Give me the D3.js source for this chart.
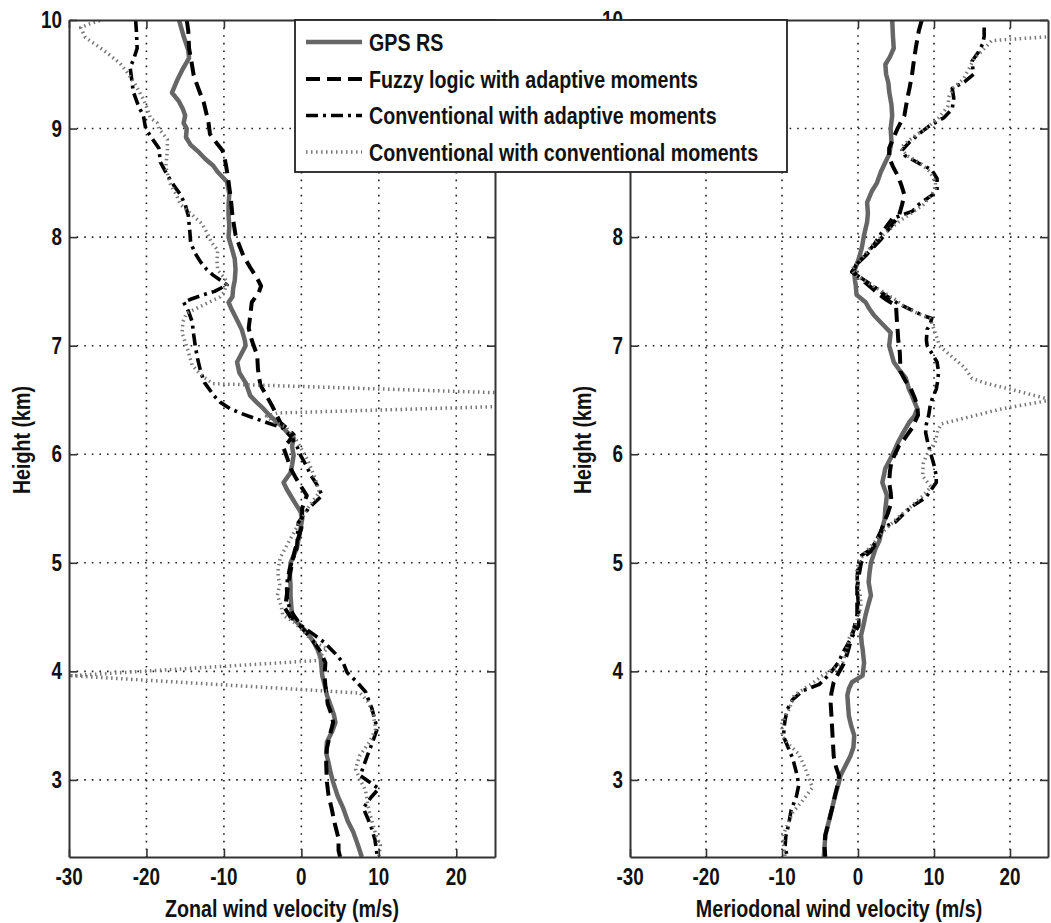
<!DOCTYPE html>
<html>
<head>
<meta charset="utf-8">
<script src="https://cdn.jsdelivr.net/npm/d3@7"></script>
<style>
  html, body { margin: 0; padding: 0; background: #fff; }
  svg text { font-family: "Liberation Sans", Arial, sans-serif; font-weight: bold; fill: #111; }
</style>
</head>
<body>
<svg id="chart" width="1051" height="923"></svg>
<script>
// Wind profiles: each point is [height (km), velocity (m/s)]

// ---- Zonal component ----
const zonalGPS = [[10.0,-15.8],[9.85,-15.2],[9.72,-14.6],[9.65,-14.5],[9.55,-15.3],[9.45,-16.0],[9.33,-16.7],[9.25,-15.8],[9.18,-15.3],[9.12,-15.0],[9.05,-15.2],[9.0,-14.8],[8.92,-14.9],[8.85,-14.3],[8.78,-13.2],[8.72,-12.4],[8.66,-11.4],[8.6,-10.8],[8.51,-9.6],[8.4,-9.3],[8.3,-9.4],[8.2,-9.4],[8.1,-9.3],[8.0,-9.4],[7.9,-9.0],[7.8,-8.6],[7.7,-8.5],[7.6,-8.6],[7.53,-8.8],[7.45,-8.9],[7.4,-9.4],[7.35,-9.1],[7.25,-8.4],[7.15,-7.7],[7.05,-7.3],[7.0,-7.2],[6.93,-7.7],[6.85,-8.3],[6.75,-8.0],[6.66,-7.2],[6.54,-6.6],[6.48,-5.8],[6.42,-4.9],[6.35,-4.0],[6.27,-2.7],[6.2,-1.8],[6.15,-1.0],[6.07,-1.2],[5.99,-1.0],[5.9,-1.2],[5.83,-1.4],[5.74,-2.3],[5.68,-1.9],[5.62,-1.4],[5.55,-0.8],[5.47,-0.1],[5.4,0.1],[5.32,-0.1],[5.2,-0.4],[5.13,-0.6],[5.05,-1.1],[5.0,-1.4],[4.9,-1.5],[4.8,-1.4],[4.7,-1.4],[4.6,-1.3],[4.52,-1.2],[4.46,-0.7],[4.42,-0.1],[4.35,0.8],[4.27,1.6],[4.2,2.1],[4.12,2.5],[4.04,2.6],[3.96,2.7],[3.88,3.0],[3.78,3.3],[3.68,3.8],[3.6,4.2],[3.53,4.4],[3.45,4.0],[3.35,3.3],[3.25,3.2],[3.16,3.5],[3.06,3.8],[2.98,4.1],[2.85,4.7],[2.74,5.4],[2.62,6.0],[2.52,6.7],[2.4,7.3],[2.29,7.8]];

const zonalFuzzy = [[10.0,-14.8],[9.9,-14.6],[9.74,-14.5],[9.62,-14.2],[9.49,-13.9],[9.35,-13.2],[9.24,-12.6],[9.06,-12.0],[8.95,-11.8],[8.88,-11.1],[8.8,-10.2],[8.76,-10.0],[8.65,-9.7],[8.51,-9.4],[8.35,-9.1],[8.2,-8.9],[8.02,-8.5],[7.92,-8.0],[7.83,-7.5],[7.72,-6.6],[7.62,-5.7],[7.55,-5.2],[7.49,-5.5],[7.4,-6.4],[7.28,-6.6],[7.16,-6.8],[7.05,-6.4],[6.91,-5.7],[6.78,-5.6],[6.64,-5.3],[6.55,-4.6],[6.45,-3.8],[6.36,-3.2],[6.29,-2.7],[6.22,-1.6],[6.18,-1.0],[6.12,-1.6],[6.06,-2.3],[5.96,-1.8],[5.87,-1.4],[5.78,-0.7],[5.71,-0.1],[5.62,0.7],[5.56,0.4],[5.5,0.1],[5.4,0.1],[5.32,0.0],[5.2,-0.5],[5.1,-0.9],[5.0,-1.2],[4.88,-1.5],[4.75,-1.8],[4.58,-2.1],[4.5,-1.4],[4.45,-0.6],[4.36,0.6],[4.27,1.6],[4.18,2.5],[4.08,3.1],[3.95,3.0],[3.87,3.1],[3.7,3.4],[3.6,3.9],[3.53,4.1],[3.42,3.7],[3.29,3.3],[3.15,3.2],[2.98,3.3],[2.86,3.5],[2.74,3.9],[2.6,4.3],[2.46,4.8],[2.35,4.8],[2.29,5.0]];

const zonalConvAdaptive = [[10.0,-21.4],[9.9,-21.3],[9.74,-21.2],[9.65,-21.6],[9.56,-22.1],[9.45,-21.9],[9.34,-21.7],[9.2,-21.0],[9.12,-20.4],[9.0,-20.1],[8.9,-19.2],[8.82,-18.4],[8.69,-18.2],[8.57,-17.3],[8.48,-16.5],[8.39,-15.6],[8.3,-15.0],[8.2,-14.6],[8.05,-14.4],[7.95,-14.3],[7.85,-13.7],[7.77,-13.0],[7.7,-12.2],[7.65,-11.4],[7.56,-9.6],[7.5,-11.2],[7.47,-12.6],[7.43,-14.2],[7.4,-15.2],[7.32,-14.6],[7.22,-14.1],[7.1,-13.9],[7.0,-13.7],[6.88,-13.4],[6.76,-13.0],[6.66,-12.5],[6.61,-12.0],[6.54,-11.3],[6.48,-10.5],[6.42,-9.2],[6.38,-7.9],[6.33,-6.0],[6.29,-4.4],[6.24,-2.3],[6.18,-1.6],[6.15,-1.2],[6.08,-0.6],[5.99,-0.1],[5.9,0.6],[5.81,1.2],[5.72,2.0],[5.62,2.7],[5.56,1.8],[5.5,0.9],[5.43,0.2],[5.37,-0.4],[5.25,-0.5],[5.13,-0.6],[5.03,-1.1],[4.95,-1.5],[4.85,-1.8],[4.76,-1.9],[4.65,-1.8],[4.58,-1.5],[4.5,-0.8],[4.42,0.0],[4.35,1.4],[4.27,2.9],[4.17,4.3],[4.08,5.4],[3.99,5.9],[3.9,7.2],[3.81,8.3],[3.73,8.7],[3.66,9.1],[3.55,9.5],[3.47,9.8],[3.35,9.2],[3.22,8.5],[3.12,8.0],[3.04,7.6],[2.97,9.0],[2.92,10.0],[2.84,9.0],[2.74,8.0],[2.64,8.6],[2.55,9.1],[2.45,9.5],[2.35,9.7],[2.29,9.8]];

const zonalConvConv = [[10.05,-25.0],[9.99,-26.2],[9.96,-27.5],[9.93,-28.5],[9.84,-27.9],[9.72,-25.5],[9.6,-23.4],[9.5,-22.3],[9.4,-21.4],[9.27,-20.4],[9.2,-20.0],[9.1,-19.5],[9.05,-18.6],[9.0,-18.4],[8.9,-17.3],[8.8,-17.3],[8.65,-17.5],[8.5,-17.0],[8.4,-16.2],[8.3,-15.6],[8.2,-14.0],[8.12,-12.8],[8.03,-12.1],[7.95,-11.6],[7.88,-10.8],[7.78,-10.9],[7.7,-10.8],[7.59,-9.6],[7.5,-9.9],[7.45,-10.5],[7.38,-12.5],[7.3,-14.8],[7.22,-15.3],[7.12,-15.4],[6.97,-14.7],[6.82,-14.1],[6.72,-12.8],[6.65,-11.4],[6.5,55],[6.38,-3.1],[6.35,-4.5],[6.3,-3.6],[6.25,-2.0],[6.15,-0.8],[6.05,0.0],[5.95,0.8],[5.81,1.6],[5.73,2.0],[5.65,2.3],[5.58,1.6],[5.5,0.8],[5.4,0.0],[5.3,-0.8],[5.17,-1.8],[5.05,-2.7],[4.95,-3.0],[4.88,-3.0],[4.8,-2.8],[4.7,-3.1],[4.6,-2.6],[4.52,-2.4],[4.45,-0.9],[4.35,0.5],[4.27,1.6],[4.21,3.3],[4.15,2.6],[4.1,2.1],[3.96,-29.7],[3.8,7.6],[3.72,8.6],[3.6,9.3],[3.47,9.6],[3.35,8.8],[3.22,7.5],[3.1,7.0],[3.0,7.6],[2.9,8.3],[2.8,8.5],[2.7,8.8],[2.6,9.2],[2.5,9.6],[2.4,10.2],[2.29,10.0]];

// ---- Meridional component ----
const meridGPS = [[10.0,4.5],[9.85,4.6],[9.74,4.7],[9.66,4.2],[9.59,3.6],[9.5,3.7],[9.42,4.0],[9.34,4.1],[9.22,4.4],[9.12,4.5],[9.0,4.3],[8.88,4.4],[8.76,4.1],[8.69,3.6],[8.6,3.0],[8.5,2.5],[8.42,1.8],[8.32,1.2],[8.22,1.3],[8.14,1.2],[8.02,0.8],[7.9,0.5],[7.8,0.1],[7.68,-0.5],[7.6,-0.4],[7.56,-0.3],[7.47,-0.2],[7.4,1.0],[7.35,1.4],[7.28,2.1],[7.2,3.2],[7.12,4.3],[7.0,4.1],[6.85,4.7],[6.78,5.4],[6.7,6.3],[6.6,6.7],[6.54,7.1],[6.42,7.8],[6.35,7.4],[6.29,6.7],[6.18,5.8],[6.1,5.2],[6.02,4.7],[5.95,4.2],[5.87,3.6],[5.74,3.2],[5.68,3.5],[5.62,3.8],[5.5,3.6],[5.4,3.5],[5.32,3.2],[5.2,2.8],[5.13,2.3],[5.0,1.7],[4.9,1.5],[4.82,1.4],[4.7,1.7],[4.6,1.3],[4.52,1.0],[4.42,0.7],[4.33,0.4],[4.25,0.5],[4.21,0.6],[4.08,0.8],[3.96,0.6],[3.9,-0.8],[3.84,-1.2],[3.78,-1.4],[3.68,-1.3],[3.59,-1.2],[3.5,-0.9],[3.41,-0.5],[3.3,-0.6],[3.22,-1.0],[3.11,-1.8],[3.04,-2.3],[2.98,-2.5],[2.86,-3.0],[2.74,-3.4],[2.6,-3.9],[2.49,-4.3],[2.38,-4.4],[2.29,-4.5]];

const meridFuzzy = [[10.0,8.4],[9.9,8.0],[9.74,7.6],[9.6,7.3],[9.49,7.1],[9.38,6.8],[9.28,6.5],[9.12,6.1],[9.0,5.2],[8.9,4.6],[8.82,4.1],[8.73,4.1],[8.65,4.6],[8.57,5.2],[8.48,5.7],[8.39,6.1],[8.3,5.8],[8.2,5.4],[8.08,4.1],[7.98,3.0],[7.9,1.9],[7.83,1.0],[7.77,0.1],[7.68,-0.8],[7.63,0.2],[7.58,1.0],[7.52,2.0],[7.47,2.8],[7.42,3.8],[7.37,5.0],[7.25,5.1],[7.16,5.2],[7.05,5.3],[6.94,5.5],[6.76,5.6],[6.68,6.2],[6.61,6.9],[6.53,7.4],[6.45,7.8],[6.36,7.9],[6.3,7.5],[6.24,7.1],[6.15,6.2],[6.08,5.4],[5.93,4.4],[5.84,4.2],[5.74,4.1],[5.65,4.3],[5.56,4.4],[5.45,3.9],[5.37,3.4],[5.28,3.0],[5.19,2.5],[5.1,1.6],[5.07,1.0],[5.0,0.4],[4.88,0.1],[4.78,-0.1],[4.7,-0.1],[4.6,-0.1],[4.52,-0.1],[4.4,-0.5],[4.27,-1.0],[4.17,-1.4],[4.08,-1.8],[3.98,-2.6],[3.9,-3.2],[3.8,-3.5],[3.71,-3.6],[3.6,-3.5],[3.47,-3.4],[3.35,-3.3],[3.22,-3.2],[3.12,-2.9],[3.04,-2.5],[2.98,-2.6],[2.86,-3.0],[2.74,-3.4],[2.6,-3.9],[2.49,-4.3],[2.38,-4.4],[2.29,-4.3]];

const meridConvAdaptive = [[9.93,16.6],[9.85,16.6],[9.78,16.4],[9.7,15.8],[9.62,15.0],[9.5,15.2],[9.43,14.0],[9.37,12.4],[9.28,12.6],[9.18,12.4],[9.1,11.3],[9.02,9.3],[8.95,8.0],[8.87,6.7],[8.8,5.8],[8.75,6.2],[8.68,8.0],[8.62,9.7],[8.54,10.4],[8.42,10.4],[8.36,9.2],[8.3,8.0],[8.24,7.2],[8.17,4.5],[8.05,3.2],[7.93,2.1],[7.82,0.8],[7.74,-0.3],[7.68,-0.6],[7.62,0.5],[7.55,2.0],[7.47,3.5],[7.4,5.0],[7.33,7.0],[7.28,8.5],[7.25,9.7],[7.2,9.5],[7.15,9.1],[7.05,9.0],[7.0,9.1],[6.92,9.8],[6.85,10.4],[6.76,10.6],[6.68,10.5],[6.6,10.3],[6.52,9.8],[6.45,9.5],[6.36,9.3],[6.28,9.0],[6.2,8.9],[6.1,9.2],[6.0,9.6],[5.9,10.0],[5.8,10.3],[5.74,10.3],[5.68,9.7],[5.6,8.9],[5.52,7.1],[5.45,6.0],[5.38,5.0],[5.32,3.2],[5.22,2.5],[5.13,1.8],[5.06,0.3],[5.0,0.1],[4.88,-0.1],[4.76,-0.1],[4.66,0.0],[4.58,0.1],[4.42,0.1],[4.35,-0.5],[4.27,-1.2],[4.17,-2.0],[4.08,-2.6],[3.97,-3.8],[3.88,-5.1],[3.82,-7.3],[3.74,-8.6],[3.65,-9.3],[3.55,-9.6],[3.5,-9.7],[3.4,-9.8],[3.3,-9.2],[3.2,-8.6],[3.04,-8.0],[2.95,-7.8],[2.85,-8.1],[2.72,-8.8],[2.6,-9.1],[2.48,-9.5],[2.38,-9.6],[2.29,-9.3]];

const meridConvConv = [[9.87,30],[9.84,24],[9.82,19.5],[9.81,17.6],[9.72,16.4],[9.65,15.3],[9.55,14.6],[9.45,13.8],[9.38,12.6],[9.3,12.0],[9.2,11.8],[9.1,10.6],[9.0,9.0],[8.95,7.8],[8.88,6.5],[8.82,5.6],[8.75,6.5],[8.68,8.2],[8.6,9.5],[8.5,10.2],[8.45,10.2],[8.38,9.6],[8.3,8.6],[8.22,7.0],[8.15,5.5],[8.05,3.8],[7.95,2.2],[7.85,1.0],[7.76,-0.1],[7.7,-0.8],[7.64,-0.2],[7.57,1.5],[7.5,3.2],[7.42,5.0],[7.35,6.3],[7.28,8.4],[7.25,9.5],[7.15,10.0],[7.05,10.5],[7.0,10.7],[6.92,12.0],[6.8,14.0],[6.7,15.0],[6.66,16.5],[6.6,20],[6.5,25.5],[6.42,19],[6.35,15],[6.28,11.0],[6.22,10.5],[6.12,10.2],[6.0,9.1],[5.92,8.6],[5.8,8.5],[5.7,9.6],[5.62,8.6],[5.55,7.5],[5.48,6.3],[5.4,5.0],[5.3,3.5],[5.2,2.3],[5.1,1.0],[5.0,0.0],[4.9,-0.2],[4.8,0.0],[4.7,0.3],[4.6,0.4],[4.5,0.0],[4.4,-0.5],[4.3,-1.2],[4.2,-1.5],[4.08,-2.0],[3.96,-4.7],[3.88,-6.2],[3.78,-8.4],[3.66,-9.0],[3.52,-10.0],[3.4,-10.0],[3.32,-9.0],[3.24,-7.8],[3.1,-6.9],[2.93,-6.0],[2.8,-7.4],[2.7,-8.6],[2.6,-9.2],[2.5,-9.8],[2.4,-9.8],[2.29,-9.6]];

// ---- Axes ----
const velocityDomain = [-30, 25];
const heightDomain = [2.29, 10];
const velocityTicks = [-30, -20, -10, 0, 10, 20];
const heightTicks = [3, 4, 5, 6, 7, 8, 9, 10];
const zonalTitle = "Zonal wind velocity (m/s)";
const meridTitle = "Meriodonal wind velocity (m/s)";
const heightTitle = "Height (km)";

// ---- Legend ----
const seriesNames = ["GPS RS", "Fuzzy logic with adaptive moments", "Conventional with adaptive moments", "Conventional with conventional moments"];

const seriesStyles = [
  { stroke: "#666", width: 4.5, dash: null },
  { stroke: "#000", width: 4, dash: "14,7" },
  { stroke: "#000", width: 3.6, dash: "12,5,3,5" },
  { stroke: "#777", width: 3.5, dash: "1.5,3.5" }
];

const NARROW = 0.82; // horizontal squeeze for the condensed bold face
const legendBox = { x: 295, y: 20, w: 492, h: 152 };

const svg = d3.select("#chart");

// condensed bold label at (x, y)
function label(parent, x, y, str, size, anchor, rotate) {
  return parent.append("text")
    .attr("transform", `translate(${x},${y})` + (rotate ? ` rotate(${rotate})` : "") + ` scale(${NARROW},1)`)
    .attr("text-anchor", anchor)
    .style("font-size", size + "px")
    .text(str);
}

function drawPanel(id, left, right, series, xTitle) {
  const top = 20, bottom = 857;
  const x = d3.scaleLinear().domain(velocityDomain).range([left, right]);
  const y = d3.scaleLinear().domain(heightDomain).range([bottom, top]);
  const g = svg.append("g");

  g.append("clipPath").attr("id", "clip-" + id)
    .append("rect").attr("x", left).attr("y", top).attr("width", right - left).attr("height", bottom - top);

  // dotted grid
  const grid = g.append("g").attr("stroke", "#222").attr("stroke-width", 1.6).attr("stroke-dasharray", "1.6,6");
  grid.selectAll(".gx").data(velocityTicks.filter(t => t > velocityDomain[0] && t < velocityDomain[1]))
    .join("line").attr("x1", d => x(d)).attr("x2", d => x(d)).attr("y1", top).attr("y2", bottom);
  grid.selectAll(".gy").data(heightTicks.filter(t => t < heightDomain[1]))
    .join("line").attr("y1", d => y(d)).attr("y2", d => y(d)).attr("x1", left).attr("x2", right);

  // profiles
  const line = d3.line().x(d => x(d[1])).y(d => y(d[0]));
  const plot = g.append("g").attr("clip-path", "url(#clip-" + id + ")");
  series.forEach((s, i) => {
    const st = seriesStyles[i];
    plot.append("path").datum(s)
      .attr("d", line)
      .attr("fill", "none")
      .attr("stroke", st.stroke)
      .attr("stroke-width", st.width)
      .attr("stroke-dasharray", st.dash)
      .attr("stroke-linejoin", "round");
  });

  // box with inward ticks (labels drawn separately in the condensed face)
  const axB = d3.axisBottom(x).tickValues(velocityTicks).tickSizeInner(-8).tickSizeOuter(0).tickFormat("");
  const axT = d3.axisTop(x).tickValues(velocityTicks).tickSizeInner(-8).tickSizeOuter(0).tickFormat("");
  const axL = d3.axisLeft(y).tickValues(heightTicks).tickSizeInner(-8).tickSizeOuter(0).tickFormat("");
  const axR = d3.axisRight(y).tickValues(heightTicks).tickSizeInner(-8).tickSizeOuter(0).tickFormat("");
  [
    g.append("g").attr("transform", `translate(0,${bottom})`).call(axB),
    g.append("g").attr("transform", `translate(0,${top})`).call(axT),
    g.append("g").attr("transform", `translate(${left},0)`).call(axL),
    g.append("g").attr("transform", `translate(${right},0)`).call(axR)
  ].forEach(a => {
    a.select(".domain").attr("stroke", "#333").attr("stroke-width", 2);
    a.selectAll(".tick line").attr("stroke", "#333").attr("stroke-width", 1.6);
  });

  // tick labels; a height label lying wholly under the legend box is not drawn
  velocityTicks.forEach(t => label(g, x(t), 885, String(t), 23, "middle"));
  heightTicks.forEach(t => {
    const lx = left - 7, ly = y(t);
    const hidden = lx > legendBox.x && ly - 9 > legendBox.y && ly + 9 < legendBox.y + legendBox.h;
    if (!hidden) label(g, lx, ly + 8, String(t), 23, "end");
  });

  // titles
  label(g, (left + right) / 2, 917, xTitle, 24, "middle");
  label(g, left - 39, 440, heightTitle, 24, "middle", -90);
}

drawPanel("zonal", 69, 495, [zonalGPS, zonalFuzzy, zonalConvAdaptive, zonalConvConv], zonalTitle);
drawPanel("merid", 630, 1048, [meridGPS, meridFuzzy, meridConvAdaptive, meridConvConv], meridTitle);

// legend box drawn on top of both panels
const lg = svg.append("g");
lg.append("rect").attr("x", legendBox.x).attr("y", legendBox.y).attr("width", legendBox.w).attr("height", legendBox.h)
  .attr("fill", "#fff").attr("stroke", "#222").attr("stroke-width", 1.8);
const rowY = [42, 79, 115.5, 152];
seriesNames.forEach((name, i) => {
  const st = seriesStyles[i];
  lg.append("line").attr("x1", 306).attr("x2", 362).attr("y1", rowY[i]).attr("y2", rowY[i])
    .attr("stroke", st.stroke).attr("stroke-width", st.width).attr("stroke-dasharray", st.dash);
  label(lg, 369, rowY[i] + 8.5, name, 24, "start");
});
</script>
</body>
</html>
